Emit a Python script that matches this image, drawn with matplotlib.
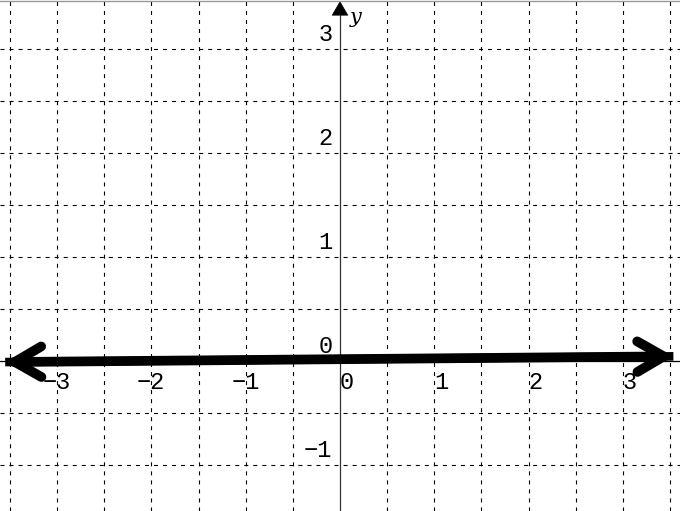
import matplotlib
matplotlib.use("Agg")
import matplotlib.pyplot as plt
import numpy as np

# data
x_ticks = [-3, -2, -1, 0, 1, 2, 3]
y_ticks = [-1, 0, 1, 2, 3]
x_tick_labels = ["\u22123", "\u22122", "\u22121", "0", "1", "2", "3"]
y_tick_labels = ["\u22121", "0", "1", "2", "3"]
grid_x = [-3.5, -3, -2.5, -2, -1.5, -1, -0.5, 0.5, 1, 1.5, 2, 2.5, 3, 3.5]
grid_y = [-1, -0.5, 0.5, 1, 1.5, 2, 2.5, 3]
line_x = [-3.55, 3.535]
line_y = [-0.01, 0.045]

plt.rcParams['lines.scale_dashes'] = False
fig = plt.figure(figsize=(6.8, 5.11), dpi=100)
ax = fig.add_axes([0, 0, 1, 1])
ax.set_xlim(-3.605, 3.605)
ax.set_ylim(-1.442, 3.471)
ax.axis('off')

for gx in grid_x:
    ax.axvline(gx, color='black', lw=0.8, dashes=(2.9, 3.6), zorder=1)
for gy in grid_y:
    ax.axhline(gy, color='black', lw=0.8, dashes=(2.9, 3.6), zorder=1)

# axes
ax.axhline(0, color='black', lw=0.9, zorder=2)
ax.plot([0, 0], [-1.442, 3.40], color='#333333', lw=0.9, zorder=2)
ax.annotate('', xy=(0, 3.46), xytext=(0, 3.36),
            arrowprops=dict(arrowstyle='-|>,head_length=0.6,head_width=0.35',
                            color='black', lw=0.5,
                            mutation_scale=16, shrinkA=0, shrinkB=0), zorder=3)
ax.text(0.165, 3.30, 'y', fontsize=15, family='DejaVu Serif', style='italic',
        ha='center', va='center')

font = 'Liberation Mono'
for xt, lab in zip(x_ticks, x_tick_labels):
    ax.annotate(lab, xy=(xt, 0), xytext=(10, -7), textcoords='offset points',
                ha='right', va='top', fontsize=17, family=font, zorder=2)
for yt, lab in zip(y_ticks, y_tick_labels):
    ax.annotate(lab, xy=(0, yt), xytext=(-5.5, 2.5), textcoords='offset points',
                ha='right', va='bottom', fontsize=17, family=font, zorder=2)

# thick line with arrowheads
ax.plot(line_x, line_y, color='black', lw=6.2, solid_capstyle='butt', zorder=4)
ax.annotate('', xy=(line_x[0], line_y[0]), xytext=(line_x[1], line_y[1]),
            arrowprops=dict(arrowstyle='<->,head_length=19,head_width=11',
                            color='black', lw=7, mutation_scale=1,
                            shrinkA=0, shrinkB=0, capstyle='round',
                            joinstyle='round'), zorder=5)

fig.add_artist(plt.Line2D([0, 1], [0.999, 0.999], color='#999999', lw=1,
                          transform=fig.transFigure))

fig.savefig('out.png', dpi=100)
